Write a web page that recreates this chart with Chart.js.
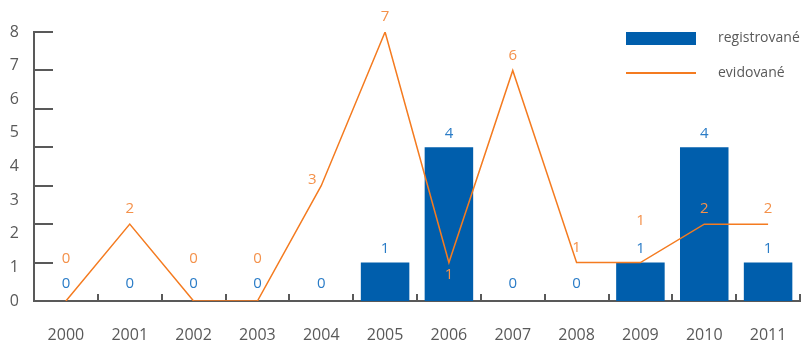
<!DOCTYPE html>
<html>
<head>
<meta charset="utf-8">
<script src="https://cdn.jsdelivr.net/npm/chart.js@4.4.1/dist/chart.umd.min.js"></script>
<style>
html,body{margin:0;padding:0;background:#fff}
#wrap{width:802px;height:342px;position:relative}
</style>
</head>
<body>
<div id="wrap"><canvas id="graf"></canvas></div>
<script>
const roky=["2000","2001","2002","2003","2004","2005","2006","2007","2008","2009","2010","2011"];
const registrovane=[0,0,0,0,0,1,4,0,0,1,4,1];
const evidovane=[0,2,0,0,3,7,1,6,1,1,2,2];
const yPopisky=["0","1","2","3","4","5","6","7","8"];

const SEDA="#595959",MODRA="#005eac",ORANZ="#f47b20";
Chart.defaults.font.family="'Open Sans', sans-serif";

// kratke znacky dovnitr grafu (osa y i x)
const znacky={
  id:"znacky",
  beforeDatasetsDraw(c){
    const ctx=c.ctx,a=c.chartArea,ys=c.scales.y,xs=c.scales.x;
    ctx.save();
    ctx.strokeStyle=SEDA;ctx.lineWidth=2;
    ctx.beginPath();
    for(let v=0;v<=7;v++){
      const y=Math.round(ys.getPixelForValue(v));
      ctx.moveTo(a.left,y);ctx.lineTo(a.left+19,y);
    }
    const w=xs.getPixelForValue(1)-xs.getPixelForValue(0);
    roky.forEach((r,i)=>{
      const x=Math.round(xs.getPixelForValue(i)+w/2);
      ctx.moveTo(x,a.bottom);ctx.lineTo(x,a.bottom-7);
    });
    ctx.stroke();
    ctx.restore();
  }
};

// popisky hodnot
const popisky={
  id:"popisky",
  afterDatasetsDraw(c){
    const ctx=c.ctx;
    ctx.save();
    ctx.font="15px 'Open Sans'";
    ctx.textAlign="center";ctx.textBaseline="middle";
    ctx.fillStyle="#2a7cc7";
    c.getDatasetMeta(0).data.forEach((b,i)=>ctx.fillText(registrovane[i],b.x,b.y-(registrovane[i]?14:17)));
    ctx.fillStyle="#f4914a";
    c.getDatasetMeta(1).data.forEach((p,i)=>{
      const v=evidovane[i],pred=evidovane[i-1],po=evidovane[i+1];
      let dx=0,dy=-15;
      if(v===registrovane[i])dy=-42;
      else if(pred>v&&po>v)dy=12;
      else if(pred<v&&po>v){dx=-9;dy=-6;}
      ctx.fillText(v,p.x+dx,p.y+dy);
    });
    ctx.restore();
  }
};

// legenda vpravo nahore
const legenda={
  id:"legenda",
  afterDraw(c){
    const ctx=c.ctx,a=c.chartArea,x=a.right-174,y=a.top;
    const ds=c.data.datasets;
    ctx.save();
    ctx.fillStyle=ds[0].backgroundColor;
    ctx.fillRect(x,y,70,13);
    ctx.strokeStyle=ds[1].borderColor;ctx.lineWidth=2;
    ctx.beginPath();ctx.moveTo(x,y+41);ctx.lineTo(x+70,y+41);ctx.stroke();
    ctx.fillStyle=SEDA;ctx.font="14px 'Open Sans'";ctx.textBaseline="middle";
    ctx.fillText(ds[0].label,x+92,y+6);
    ctx.fillText(ds[1].label,x+92,y+41);
    ctx.restore();
  }
};

new Chart(graf,{
  data:{
    labels:roky,
    datasets:[{
      type:"bar",
      label:"registrované",
      data:registrovane,
      backgroundColor:MODRA,
      barPercentage:0.76,
      categoryPercentage:1,
      order:1
    },{
      type:"line",
      label:"evidované",
      data:evidovane,
      borderColor:ORANZ,
      borderWidth:1.5,
      pointRadius:0,
      tension:0,
      order:0
    }]
  },
  options:{
    responsive:true,
    maintainAspectRatio:false,
    animation:false,
    layout:{padding:{top:32,right:2,left:0,bottom:0}},
    plugins:{legend:{display:false},tooltip:{enabled:false}},
    scales:{
      x:{
        grid:{display:false,drawTicks:false},
        border:{color:SEDA,width:2},
        ticks:{color:SEDA,font:{size:16},padding:25,maxRotation:0},
        afterFit(s){s.paddingLeft=0;s.paddingRight=0;s.height=41}
      },
      y:{
        position:"left",min:0,max:7,
        grid:{display:false,drawTicks:false},
        border:{color:SEDA,width:2},
        ticks:{display:false,stepSize:1}
      },
      yLab:{
        position:"left",min:0,max:8,weight:10,
        grid:{display:false,drawTicks:false},
        border:{display:false},
        ticks:{stepSize:1,padding:15,color:SEDA,font:{size:16},callback:(v,i)=>yPopisky[i]},
        afterFit(s){s.width=34;s.paddingTop=0;s.paddingBottom=0}
      }
    }
  },
  plugins:[znacky,popisky,legenda]
});
</script>
</body>
</html>
